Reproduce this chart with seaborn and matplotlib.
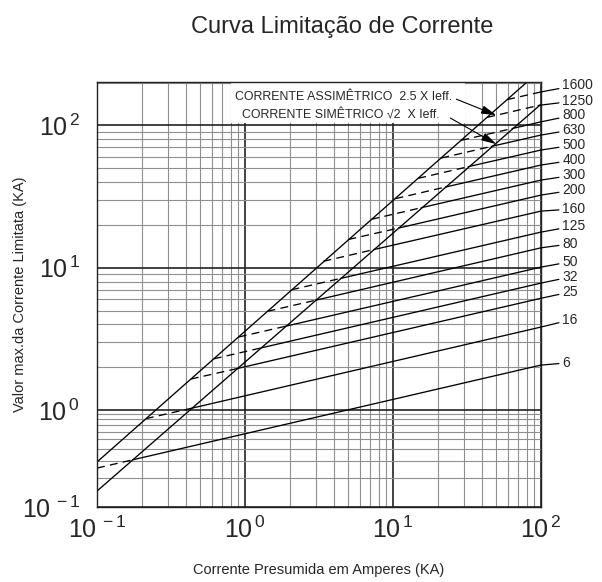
import numpy as np
import pandas as pd
import seaborn as sns
from matplotlib import pyplot as plt
from matplotlib.patches import Rectangle
from matplotlib.ticker import LogLocator, NullFormatter

# fuse ratings (A) and their cut-off lines
ratings = [6, 16, 25, 32, 50, 80, 125, 160, 200, 300, 400, 500, 630, 800, 1250, 1600]
# point where each line leaves the asymmetric peak line (dashed part starts)
x_start = [0.1, 0.214, 0.430, 0.615, 0.907, 1.42, 2.06, 3.39, 5.0, 7.15, 10.4, 14.8, 21.2, 28.9, 43.3, 59.1]
y_start = [0.252, 0.815, 1.65, 2.29, 3.26, 4.94, 7.0, 11.1, 15.8, 21.9, 30.6, 42.5, 59.0, 78.6, 114, 152]
# point on the symmetric line (solid part starts)
x_sym = [0.175, 0.437, 0.893, 1.28, 1.88, 3.0, 4.42, 7.38, 10.9, 15.5, 22.6, 32.2, 46.1, 63.8, 95.6, 100]
y_sym = [0.307, 1.03, 1.96, 2.73, 3.88, 5.91, 8.41, 13.4, 19.0, 26.4, 36.9, 51.3, 71.2, 95.1, 138, 172]
# value at right edge (100 kA)
x_end = 100
y_end = [2.07, 3.83, 6.1, 7.8, 10.1, 13.8, 17.8, 25.0, 32.4, 41.3, 52.7, 67.2, 85.6, 106, 139, 172]
label_y = [2.14, 4.29, 6.75, 8.6, 11.0, 14.7, 19.6, 25.9, 35.2, 44.8, 57.1, 72.8, 93.6, 118.3, 149.6, 192]
label_x = 139

# envelope lines
asym_x = [0.1, 80.5]
asym_y = [0.291, 202]
sym_x = [0.1, 100]
sym_y = [0.146, 141]

xticks = [0.1, 1, 10, 100]
xlabels = [r'$\mathregular{10^{\,-1}}$', r'$\mathregular{10^{\,0}}$', r'$\mathregular{10^{\,1}}$', r'$\mathregular{10^{\,2}}$']
yticks = [0.1, 1, 10, 100]
ylabels = xlabels

sns.set_style("white")
plt.rcParams['font.family'] = ['Liberation Sans', 'DejaVu Sans']
plt.rcParams['mathtext.fontset'] = 'custom'
plt.rcParams['mathtext.rm'] = 'Liberation Sans'

# bottom decade of the original chart is drawn compressed
K = 0.6816
def fwd(y):
    y = np.asarray(y, dtype=float)
    with np.errstate(divide='ignore', invalid='ignore'):
        l = np.log10(np.where(y > 0, y, np.nan))
    return np.where(l >= 0, l, K * l)
def inv(v):
    v = np.asarray(v, dtype=float)
    return np.where(v >= 0, 10.0 ** v, 10.0 ** (v / K))

rows = []
seg = 0
for xs, ys, style in [(asym_x, asym_y, 'solid'), (sym_x, sym_y, 'solid')]:
    for a, b in zip(xs, ys):
        rows.append((seg, style, a, b))
    seg += 1
for i, r in enumerate(ratings):
    rows.append((seg, 'dashed', x_start[i], y_start[i]))
    rows.append((seg, 'dashed', x_sym[i], y_sym[i]))
    seg += 1
    rows.append((seg, 'solid', x_sym[i], y_sym[i]))
    rows.append((seg, 'solid', x_end, y_end[i]))
    seg += 1
df = pd.DataFrame(rows, columns=['seg', 'part', 'x', 'y'])

fig = plt.figure(figsize=(6.02, 5.82), dpi=100)
ax = fig.add_axes([97 / 602, 1 - 507 / 582, 444 / 602, 425 / 582])
ax.set_xscale('log')
ax.set_yscale('function', functions=(fwd, inv))

sns.lineplot(data=df, x='x', y='y', units='seg', estimator=None, sort=False,
             style='part', dashes={'solid': '', 'dashed': (6, 4)},
             color='black', linewidth=0.95, legend=False, ax=ax)

ax.set_xlim(0.1, 100)
ax.set_ylim(0.1, 202)
ax.set_xticks(xticks, labels=xlabels)
ax.set_yticks(yticks, labels=ylabels)
ax.xaxis.set_minor_locator(LogLocator(base=10, subs=np.arange(2, 10), numticks=30))
ax.yaxis.set_minor_locator(LogLocator(base=10, subs=np.arange(2, 10), numticks=30))
ax.xaxis.set_minor_formatter(NullFormatter())
ax.yaxis.set_minor_formatter(NullFormatter())
ax.set_axisbelow(True)
ax.grid(which='major', color='#222222', linewidth=1.2)
ax.grid(which='minor', color='#8f8f8f', linewidth=0.8)
ax.tick_params(which='both', length=0, labelsize=18)
ax.tick_params(axis='x', pad=7)
ax.tick_params(axis='y', pad=12)
ax.set_xlabel('')
ax.set_ylabel('')
for s in ax.spines.values():
    s.set_color('#222222')
    s.set_linewidth(1.0)

# blank area behind the envelope notes (above the 10^2 line)
ax.add_patch(Rectangle((0.81, 104), 30.5 - 0.81, 202 - 104, facecolor='white',
                       edgecolor='none', zorder=1))

# rating labels outside the plot with leader lines
for i, r in enumerate(ratings):
    ax.annotate(str(r), xy=(x_end, y_end[i]), xytext=(label_x, label_y[i]),
                textcoords='data', ha='left', va='center', fontsize=10,
                annotation_clip=False,
                arrowprops=dict(arrowstyle='-', color='black', lw=0.9,
                                shrinkA=0, shrinkB=0))

# envelope annotations
ax.text(25.2, 158, 'CORRENTE ASSIMÊTRICO  2.5 X Ieff.', ha='right', va='center',
        fontsize=8.9, zorder=3)
ax.text(20.6, 120, 'CORRENTE SIMÊTRICO \u221a2  X Ieff.', ha='right', va='center',
        fontsize=8.9, zorder=3)
arrow = dict(arrowstyle='-|>,head_length=0.9,head_width=0.25', color='black',
             lw=0.8, shrinkA=0, shrinkB=0)
ax.annotate('', xy=(49.8, 118), xytext=(26.8, 153), arrowprops=arrow)
ax.annotate('', xy=(49.8, 74), xytext=(24.4, 112.7), arrowprops=arrow)

fig.text(342 / 602, 1 - 27 / 582, 'Curva Limitação de Corrente', ha='center',
         va='center', fontsize=17)
fig.text(319 / 602, 1 - 570 / 582, 'Corrente Presumida em Amperes (KA)', ha='center',
         va='center', fontsize=10.5)
fig.text(20 / 602, 1 - 294 / 582, 'Valor max.da Corrente Limitata (KA)', ha='center',
         va='center', rotation=90, fontsize=10.5)

fig.savefig('out.png', dpi=100)
